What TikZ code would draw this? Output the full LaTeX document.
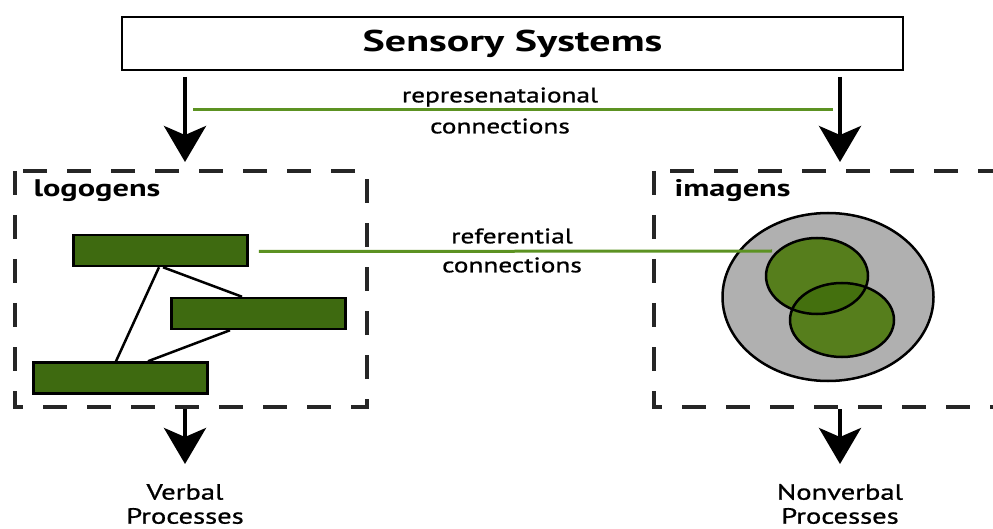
\documentclass[tikz,border=0pt]{standalone}
\usepackage{fontspec}
\setmainfont{PT Sans}[FakeStretch=1.3]
\newfontfamily\lblfont{PT Sans}[FakeStretch=1.3,FakeBold=1]
\newfontfamily\headfont{PT Sans Bold}[FakeStretch=1.35]
\newfontfamily\bigfont{PT Sans Bold}[FakeStretch=1.4]
\usetikzlibrary{arrows.meta,shapes.geometric}
\definecolor{rectgreen}{HTML}{3E6A10}
\definecolor{ellgreen}{HTML}{567E1C}
\definecolor{ovgreen}{HTML}{44700E}
\definecolor{linegreen}{HTML}{5C9222}
\definecolor{greyfill}{HTML}{B0B0B0}
\begin{document}
\begin{tikzpicture}[x=1pt,y=-1pt,
  bigarrow/.style={line width=4pt,-{Stealth[length=36pt,width=42pt,inset=9pt]}},
  dashbox/.style={draw=black!85,line width=4pt,dash pattern=on 24pt off 20pt},
  wordbar/.style={draw=black,line width=2.5pt,fill=rectgreen,minimum width=174pt,minimum height=31pt,inner sep=0pt},
  blob/.style={ellipse,draw=black,line width=2.5pt,inner sep=0pt},
  conn/.style={draw=linegreen,line width=3pt},
  lbl/.style={font=\lblfont\fontsize{21}{24}\selectfont,align=center},
  plbl/.style={font=\lblfont\fontsize{22}{24}\selectfont,align=center},
  title/.style={font=\headfont\fontsize{24}{26}\selectfont,anchor=west}]
\useasboundingbox (0,0) rectangle (993,529);

% top box
\node[draw,line width=2.5pt,minimum width=781pt,minimum height=53pt,inner sep=0pt,font=\bigfont\fontsize{30}{32}\selectfont] (ss) at (512.5,43.5) {Sensory Systems};

% dashed boxes
\draw[dashbox] (15,171) rectangle (367,407);
\draw[dashbox] (654,171) rectangle (1010,407);
\node[title] (logo) at (30,191) {logogens};
\node[title] (imag) at (671,191) {imagens};

% arrows top
\coordinate (tl1) at (185,77);
\coordinate (tl2) at (185,162);
\coordinate (tr1) at (840,77);
\coordinate (tr2) at (840,162);
\draw[bigarrow] (tl1) -- (tl2);
\draw[bigarrow] (tr1) -- (tr2);

% representational connections
\coordinate (rc1) at (193,110);
\coordinate (rc2) at (833,110);
\draw[conn] (rc1) -- (rc2);
\node[lbl] (rct) at (500,97) {represenataional};
\node[lbl] (rcb) at (500,126) {connections};

% logogen bars
\node[wordbar] (b1) at (160.5,250.5) {};
\node[wordbar] (b2) at (258.5,313.5) {};
\node[wordbar] (b3) at (120.5,378) {};
\draw[line width=2.5pt] (b1.south -| 159,0) -- (b3.north -| 116,0);
\draw[line width=2.5pt] (b1.south -| 163,0) -- (b2.north -| 242,0);
\draw[line width=2.5pt] (b2.south -| 230,0) -- (b3.north -| 148,0);

% imagens
\node[blob,fill=greyfill,minimum width=211pt,minimum height=168pt] (big) at (828,297) {};
\coordinate (rf2) at (772,251);
\path (b1.east) ++(10,1) coordinate (rf1);
\draw[conn] (rf1) -- (rf2);
\node[lbl] (rft) at (512,236) {referential};
\node[lbl] (rfb) at (512,265) {connections};
\fill[ellgreen] (817,276) ellipse [x radius=51, y radius=38];
\fill[ellgreen] (842,320) ellipse [x radius=52, y radius=37];
\begin{scope}
\clip (817,276) ellipse [x radius=51, y radius=38];
\fill[ovgreen] (842,320) ellipse [x radius=52, y radius=37];
\end{scope}
\node[blob,minimum width=102pt,minimum height=76pt] (e1) at (817,276) {};
\node[blob,minimum width=104pt,minimum height=74pt] (e2) at (842,320) {};

% bottom arrows
\coordinate (bl1) at (185,409);
\coordinate (bl2) at (185,464);
\coordinate (br1) at (840,409);
\coordinate (br2) at (840,464);
\draw[bigarrow] (bl1) -- (bl2);
\draw[bigarrow] (br1) -- (br2);
\node[plbl] (vp1) at (185,492) {Verbal};
\node[plbl] (vp2) at (185,516) {Processes};
\node[plbl] (np1) at (840,492) {Nonverbal};
\node[plbl] (np2) at (840,516) {Processes};
\end{tikzpicture}
\end{document}
